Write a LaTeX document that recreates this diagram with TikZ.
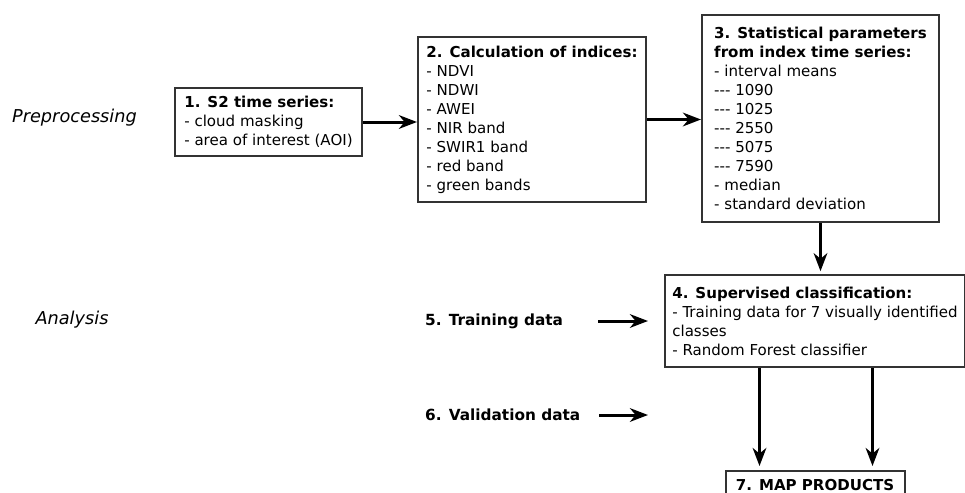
\documentclass[tikz,border=0pt]{standalone}
\usepackage{fontspec}
\setmainfont{DejaVu Sans}
\usetikzlibrary{arrows.meta, positioning, calc}
\tikzset{
  box/.style={draw=black!80, line width=0.05cm, fill=white, align=left,
              inner sep=0pt, font=\fontsize{10.7}{13.5}\selectfont},
  sig/.style={-{Stealth[length=0.45cm, width=0.34cm, inset=0.14cm]},
              line width=0.075cm},
  phase/.style={font=\fontsize{12.6}{15}\selectfont\itshape},
  src/.style={font=\fontsize{10.9}{13.5}\selectfont\bfseries},
}

\begin{document}
\begin{tikzpicture}
  \useasboundingbox (0,0) rectangle (24.125,-12.325);
  % workflow boxes
  \node[box, minimum width=5.7cm, minimum height=4.125cm] (idx) at (13.3,-2.9875)
    {\textbf{2. Calculation of indices:}\\- NDVI\\- NDWI\\- AWEI\\- NIR band\\
     - SWIR1 band\\- red band\\- green bands};
  \node[box, left=1.35cm of idx, yshift=-0.0625cm, minimum width=4.675cm,
        minimum height=1.7cm] (s2)
    {\textbf{1. S2 time series:}\\- cloud masking\\- area of interest (AOI)};
  \node[box, right=1.35cm of idx, yshift=0.025cm, minimum width=5.925cm,
        minimum height=5.175cm] (stat)
    {\textbf{3. Statistical parameters}\\\textbf{from index time series:}\\
     - interval means\\-{}-{}- 1090\\-{}-{}- 1025\\-{}-{}- 2550\\-{}-{}- 5075\\
     -{}-{}- 7590\\- median\\- standard deviation};
  \node[box, below=1.275cm of stat, xshift=-0.1375cm, minimum width=7.5cm,
        minimum height=2.3cm] (cls)
    {\textbf{4. Supervised classification:}\\- Training data for 7 visually identified\\
     classes\\- Random Forest classifier};
  \node[box, below=2.55cm of cls, minimum width=4.475cm, minimum height=0.7cm,
        align=center] (map) {\textbf{7. MAP PRODUCTS}};
  % phases
  \node[phase] (pre) at (1.8625,-2.95) {Preprocessing};
  \node[phase] (ana) at (1.8,-8.0) {Analysis};
  % input data
  \node[src, left=2.4cm of cls] (trn) {5. Training data};
  \node[src, anchor=west] (val) at ($(trn.west)+(0,-2.35)$) {6. Validation data};
  \coordinate[left=0.4cm of cls.west] (trnend);
  \coordinate (valend) at (trnend |- val);
  \coordinate (mapl) at ($(map.north west)+(0.875,0)$);
  \coordinate (mapr) at ($(map.north east)+(-0.825,0)$);
  % connectors
  \draw[sig] (s2.east) -- (s2.east -| idx.west);
  \draw[sig] (idx.east) -- (idx.east -| stat.west);
  \draw[sig, shorten >=2pt] (stat.south) -- (stat.south |- cls.north);
  \draw[sig, shorten <=0.75cm] (trn.east) -- (trnend);
  \draw[sig, shorten <=0.35cm] (val.east) -- (valend);
  \draw[sig, shorten >=0.1cm] (mapl |- cls.south) -- (mapl);
  \draw[sig, shorten >=0.1cm] (mapr |- cls.south) -- (mapr);
\end{tikzpicture}
\end{document}
